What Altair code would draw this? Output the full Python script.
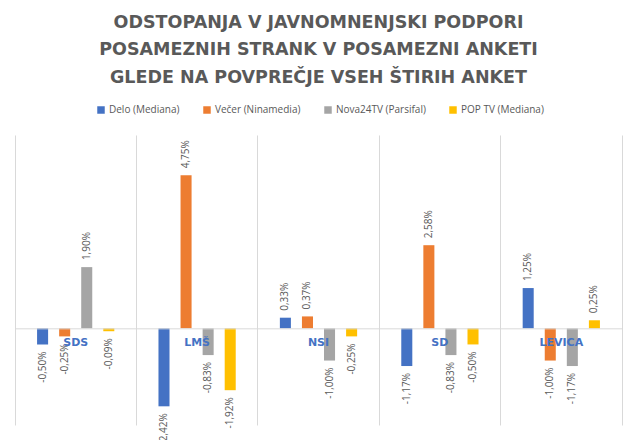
import pandas as pd
import altair as alt

parties = ["SDS", "LMŠ", "NSI", "SD", "LEVICA"]
series = ["Delo (Mediana)", "Večer (Ninamedia)", "Nova24TV (Parsifal)", "POP TV (Mediana)"]
colors = ["#4472C4", "#ED7D31", "#A5A5A5", "#FFC000"]

delo = [-0.50, -2.42, 0.33, -1.17, 1.25]
vecer = [-0.25, 4.75, 0.37, 2.58, -1.00]
nova = [1.90, -0.83, -1.00, -0.83, -1.17]
pop = [-0.09, -1.92, -0.25, -0.50, 0.25]

title_lines = [
    "ODSTOPANJA V JAVNOMNENJSKI PODPORI",
    "POSAMEZNIH STRANK V POSAMEZNI ANKETI",
    "GLEDE NA POVPREČJE VSEH ŠTIRIH ANKET",
]

rows = []
for s, vals in zip(series, [delo, vecer, nova, pop]):
    for p, v in zip(parties, vals):
        rows.append({"party": p, "series": s, "value": v,
                     "label": f"{v:.2f}%".replace(".", ",")})
df = pd.DataFrame(rows)

W, H = 607, 290
y_min, y_max = -3, 6
zero_from_bottom = H * (0 - y_min) / (y_max - y_min)

# the x axis sits on the zero line: its grid gives the vertical separators,
# its domain the zero line and its labels the party names
x_axis = alt.Axis(
    orient="bottom", offset=-zero_from_bottom, bandPosition=0,
    grid=True, gridColor="#D9D9D9", gridWidth=1,
    domain=True, domainColor="#D9D9D9", domainWidth=1,
    ticks=False, tickSize=0,
    labelPadding=14, labelBaseline="middle",
    labelFont="DejaVu Sans", labelFontWeight="bold", labelFontSize=11,
    labelColor="#4472C4", labelOverlap=False, labelFlush=False, labelBound=False,
    labelAngle=0, zindex=1, title=None,
)
y_axis = alt.Axis(
    orient="right", labels=False, ticks=False, grid=False,
    domain=True, domainColor="#D9D9D9", domainWidth=1, title=None,
)

x_enc = alt.X("party:N", sort=parties, title=None,
              scale=alt.Scale(domain=parties, paddingInner=0, paddingOuter=0),
              axis=x_axis)
y_enc = alt.Y("value:Q", scale=alt.Scale(domain=[y_min, y_max], nice=False, zero=False),
              axis=y_axis)
off = alt.XOffset("series:N", sort=series,
                  scale=alt.Scale(paddingInner=0.5, paddingOuter=1))

base = alt.Chart(df).encode(x=x_enc, xOffset=off, y=y_enc)

bars = base.mark_bar().encode(
    color=alt.Color("series:N", sort=series,
                    scale=alt.Scale(domain=series, range=colors),
                    legend=alt.Legend(orient="none", legendX=81, legendY=-30,
                                      direction="horizontal", columns=4, title=None,
                                      symbolType="square", symbolSize=56,
                                      symbolStrokeWidth=0, labelOffset=3,
                                      labelFont="Open Sans", labelFontSize=10,
                                      labelColor="#595959", columnPadding=22,
                                      padding=0)),
)

pos_labels = base.transform_filter("datum.value >= 0").mark_text(
    angle=270, align="left", baseline="middle", dx=7,
    font="Open Sans", fontSize=10, color="#595959"
).encode(text="label:N")

neg_labels = base.transform_filter("datum.value < 0").mark_text(
    angle=270, align="right", baseline="middle", dx=-7,
    font="Open Sans", fontSize=10, color="#595959"
).encode(text="label:N")

chart = alt.layer(bars, pos_labels, neg_labels).properties(
    width=W,
    height=H,
    padding={"left": 7, "top": 127, "right": 8, "bottom": 15},
    autosize=alt.AutoSizeParams(type="none"),
    background="white",
    title=alt.TitleParams(title_lines, anchor="middle", font="DejaVu Sans",
                          fontWeight="bold", fontSize=17.5, color="#595959",
                          lineHeight=27.5, offset=19),
).configure_view(stroke=None)

chart.save("out.html", embed_options={"renderer": "svg", "actions": False})
